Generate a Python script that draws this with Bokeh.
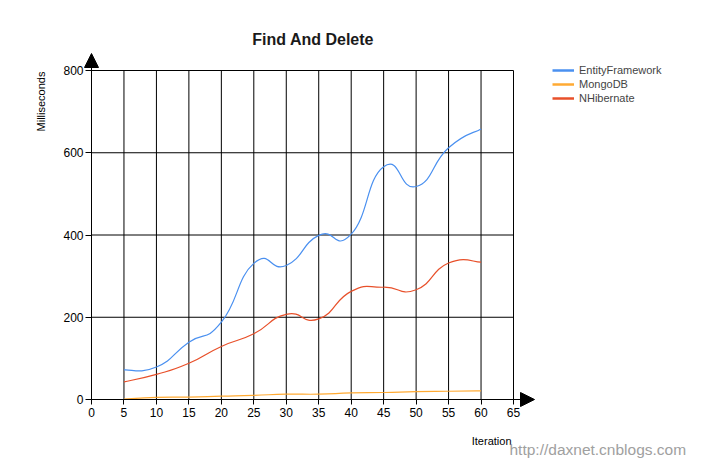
import numpy as np
from bokeh.plotting import figure
from bokeh.models import (Range1d, FixedTicker, Label, Arrow, NormalHead,
                          Legend, LegendItem, ColumnDataSource)
from bokeh.embed import file_html
from bokeh.resources import INLINE

# ---- data ----
iterations = [5, 10, 15, 20, 25, 30, 35, 40, 45, 50, 55, 60]
entity_framework = [72, 79, 139, 188, 331, 326, 399, 402, 566, 518, 612, 658]
mongodb = [1, 5, 6, 8, 10, 13, 13, 16, 17, 19, 20, 21]
nhibernate = [43, 61, 88, 129, 160, 207, 196, 263, 273, 267, 332, 334]
series_names = ["EntityFramework", "MongoDB", "NHibernate"]
series_colors = ["#4A90F0", "#FFAA33", "#E8502A"]
x_ticks = [0, 5, 10, 15, 20, 25, 30, 35, 40, 45, 50, 55, 60, 65]
y_ticks = [0, 200, 400, 600, 800]

FONT = "Liberation Sans"
W, H = 696, 459
# pixel geometry of the plotting area (x=0 at px 91, x=65 at px 513; y=0 at py 399, y=800 at py 70)
SX = (513 - 91) / 65.0
SY = (399 - 70) / 800.0

p = figure(width=W, height=H, output_backend="svg", toolbar_location=None,
           x_range=Range1d(-91 / SX, (W - 91) / SX),
           y_range=Range1d((399 - H) / SY, 399 / SY),
           min_border=0)
p.title.visible = False
p.outline_line_color = None
p.grid.visible = False
p.background_fill_color = "white"
p.border_fill_color = "white"

# axes drawn at the data origin
for ax, ticks in ((p.xaxis, x_ticks), (p.yaxis, y_ticks)):
    ax.fixed_location = 0
    ax.ticker = FixedTicker(ticks=ticks)
    ax.bounds = (ticks[0], ticks[-1])
    ax.minor_tick_line_color = None
    ax.major_tick_in = 0
    ax.axis_line_color = "black"
    ax.major_tick_line_color = "black"
    ax.major_label_text_font = FONT
    ax.major_label_text_font_size = "12px"
    ax.major_label_text_color = "black"
p.xaxis.major_tick_out = 5
p.xaxis.major_label_standoff = 3
p.yaxis.major_tick_out = 6
p.yaxis.major_label_standoff = 2

# grid as segments
vx = [t for t in x_ticks if t > 0]
p.segment(x0=vx, y0=[y_ticks[0]] * len(vx), x1=vx, y1=[y_ticks[-1]] * len(vx),
          line_color="black", line_width=1)
hy = [t for t in y_ticks if t > 0]
p.segment(x0=[x_ticks[0]] * len(hy), y0=hy, x1=[x_ticks[-1]] * len(hy), y1=hy,
          line_color="black", line_width=1)


def spline(xs, ys, t=0.8 / 3):
    x = np.asarray(xs, float)
    y = np.asarray(ys, float)
    n = len(x)
    idx = np.arange(n - 1)
    prev = np.clip(idx - 1, 0, n - 1)
    nxt = np.clip(idx + 2, 0, n - 1)
    cx0 = x[idx] + t * (x[idx + 1] - x[prev])
    cy0 = y[idx] + t * (y[idx + 1] - y[prev])
    cx1 = x[idx + 1] - t * (x[nxt] - x[idx])
    cy1 = y[idx + 1] - t * (y[nxt] - y[idx])
    return dict(x0=x[idx], y0=y[idx], x1=x[idx + 1], y1=y[idx + 1],
                cx0=cx0, cy0=cy0, cx1=cx1, cy1=cy1)


items = []
for name, vals, col in zip(series_names, [entity_framework, mongodb, nhibernate], series_colors):
    src = ColumnDataSource(spline(iterations, vals))
    p.bezier(x0="x0", y0="y0", x1="x1", y1="y1", cx0="cx0", cy0="cy0",
             cx1="cx1", cy1="cy1", source=src, line_color=col, line_width=1.2)
    dummy = p.line(x=np.array([np.nan]), y=np.array([np.nan]), line_color=col, line_width=2.5)
    items.append(LegendItem(label=name, renderers=[dummy]))

legend = Legend(items=items, location=(552, H - 105), margin=0, padding=12,
                glyph_width=22, glyph_height=14, label_height=14, spacing=0,
                label_standoff=5, label_text_font=FONT, label_text_font_size="11px",
                border_line_color=None, background_fill_alpha=0)
p.add_layout(legend)

# arrows at axis ends
head_x = NormalHead(size=14, fill_color="black", line_color="black")
head_y = NormalHead(size=14, fill_color="black", line_color="black")
p.add_layout(Arrow(end=head_x, x_start=0, y_start=0, x_end=(534 - 91) / SX, y_end=0,
                   line_color="black", line_width=1))
p.add_layout(Arrow(end=head_y, x_start=0, y_start=0, x_end=0, y_end=(399 - 53) / SY,
                   line_color="black", line_width=1))

# texts
p.add_layout(Label(x=(312.7 - 91) / SX, y=(399 - 39) / SY, text="Find And Delete",
                   text_font=FONT, text_font_size="16px", text_font_style="bold",
                   text_color="#1a1a1a", text_align="center", text_baseline="middle"))
p.add_layout(Label(x=(40.7 - 91) / SX, y=(399 - 101) / SY, text="Milliseconds",
                   text_font=FONT, text_font_size="11px", text_color="black",
                   angle=np.pi / 2, text_align="center", text_baseline="middle"))
p.add_layout(Label(x=(511 - 91) / SX, y=(399 - 440) / SY, text="Iteration",
                   text_font=FONT, text_font_size="11px", text_color="black",
                   text_align="right", text_baseline="middle"))
p.add_layout(Label(x=(509 - 91) / SX, y=(399 - 449) / SY, text="http://daxnet.cnblogs.com",
                   text_font=FONT, text_font_size="15.5px", text_color="#A0A0A0",
                   text_align="left", text_baseline="middle"))

open("out.html", "w").write(file_html(p, INLINE))
